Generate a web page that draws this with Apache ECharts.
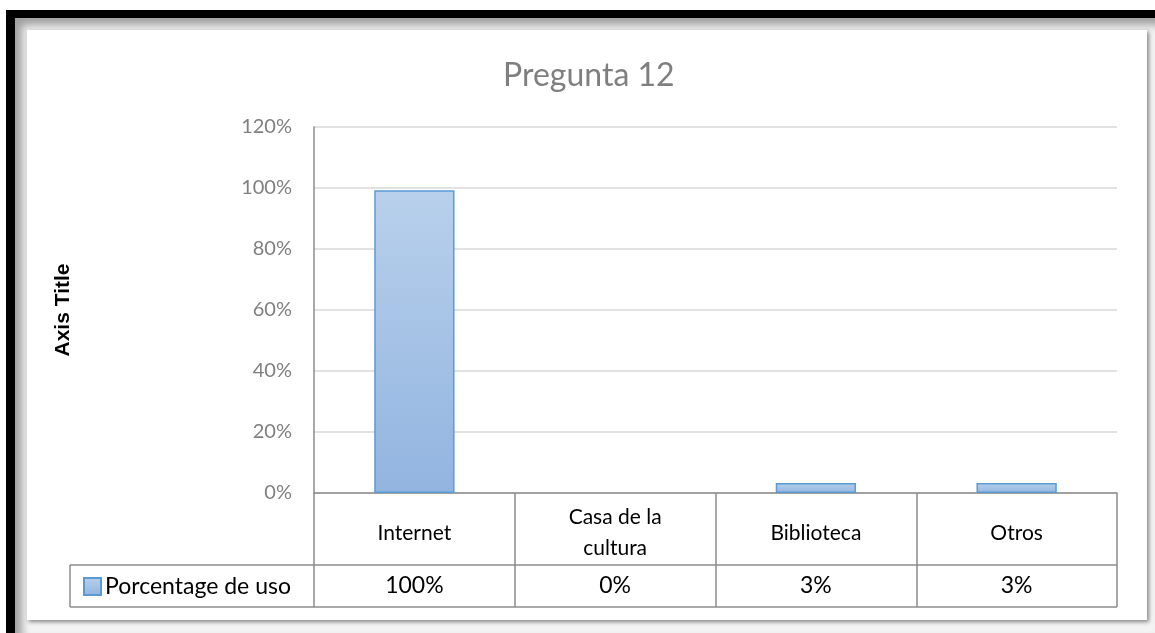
<!DOCTYPE html>
<html>
<head>
<meta charset="utf-8">
<script src="https://cdn.jsdelivr.net/npm/echarts@6/dist/echarts.min.js"></script>
<style>
  html, body { margin: 0; padding: 0; background: #fff; }
  .frame-black { position: absolute; left: 6px; top: 10px; right: 0; bottom: 0; background: #000; }
  .frame-shade { position: absolute; left: 15px; top: 18px; right: 0; bottom: 0;
    background: #f4f4f4; box-shadow: inset 7px 7px 8px rgba(0,0,0,0.35); }
  .paper { position: absolute; left: 27px; top: 30px; width: 1120px; height: 590px;
    background: #fff; box-shadow: 2px 2px 4px rgba(0,0,0,0.45); }
  #chart { position: absolute; left: 0; top: 0; width: 1155px; height: 633px; }
</style>
</head>
<body>
<div class="frame-black"></div>
<div class="frame-shade"></div>
<div class="paper"></div>
<div id="chart"></div>
<script>
const categories = ['Internet', 'Casa de la\ncultura', 'Biblioteca', 'Otros']
const usage = [0.993, 0, 0.033, 0.033]
const usageLabels = ['100%', '0%', '3%', '3%']
const seriesName = 'Porcentage de uso'

const chart = echarts.init(document.getElementById('chart'))

const lineColor = '#8c8c8c'
const font = 'Lato, "Open Sans", sans-serif'

const option = {
  animation: false,
  title: {
    text: 'Pregunta 12',
    left: 498,
    top: 55,
    textStyle: {
      fontFamily: font,
      fontSize: 32,
      fontWeight: 'normal',
      color: '#7f7f7f'
    }
  },
  legend: {
    left: 78,
    top: 570,
    icon: 'rect',
    itemWidth: 17,
    itemHeight: 17,
    itemGap: 6,
    data: [seriesName],
    textStyle: {
      fontFamily: font,
      fontSize: 23,
      color: '#000',
      padding: [0, 0, 0, -1]
    }
  },
  grid: {
    left: 314,
    right: 38,
    top: 127,
    bottom: 140
  },
  xAxis: [
    {
      type: 'category',
      data: categories,
      axisLine: { lineStyle: { color: lineColor, width: 1.5 } },
      axisTick: { show: true, interval: 0, length: 114, lineStyle: { color: lineColor, width: 1.5 } },
      axisLabel: {
        interval: 0,
        margin: 40,
        verticalAlign: 'middle',
        fontFamily: font,
        fontSize: 21,
        lineHeight: 31,
        color: '#000'
      }
    },
    {
      type: 'category',
      data: categories,
      position: 'bottom',
      axisLine: { show: false },
      axisTick: { show: false },
      axisLabel: {
        interval: 0,
        margin: 93,
        verticalAlign: 'middle',
        fontFamily: font,
        fontSize: 23,
        color: '#000',
        formatter: (value, index) => usageLabels[index]
      }
    }
  ],
  yAxis: {
    type: 'value',
    min: 0,
    max: 1.2,
    interval: 0.2,
    name: 'Axis Title',
    nameLocation: 'middle',
    nameGap: 240,
    nameRotate: 90,
    nameTextStyle: {
      fontFamily: '"Liberation Sans", Arial, sans-serif',
      fontWeight: 'bold',
      fontSize: 21,
      color: '#000'
    },
    axisLine: { show: true, lineStyle: { color: lineColor, width: 1.5 } },
    axisTick: { show: false },
    axisLabel: {
      margin: 22,
      fontFamily: font,
      fontSize: 20,
      color: '#7f7f7f',
      formatter: (v) => Math.round(v * 100) + '%'
    },
    splitLine: { lineStyle: { color: '#d9d9d9', width: 1.5 } }
  },
  series: [
    {
      name: seriesName,
      type: 'bar',
      // zero-height bars get no outline
      data: usage.map(v => (v === 0 ? { value: v, itemStyle: { borderWidth: 0 } } : v)),
      barWidth: '40%',
      itemStyle: {
        color: {
          type: 'linear',
          x: 0, y: 0, x2: 0, y2: 1,
          colorStops: [
            { offset: 0, color: '#b8d0eb' },
            { offset: 1, color: '#92b4e0' }
          ]
        },
        borderColor: '#5b9bd5',
        borderWidth: 1.5
      }
    }
  ],
  // data table frame below the axis
  graphic: [
    { type: 'line', shape: { x1: 70, y1: 565, x2: 1117, y2: 565 }, style: { stroke: lineColor, lineWidth: 1.5 } },
    { type: 'line', shape: { x1: 70, y1: 607, x2: 1117, y2: 607 }, style: { stroke: lineColor, lineWidth: 1.5 } },
    { type: 'line', shape: { x1: 70, y1: 565, x2: 70, y2: 607 }, style: { stroke: lineColor, lineWidth: 1.5 } }
  ]
}

chart.setOption(option)
</script>
</body>
</html>
